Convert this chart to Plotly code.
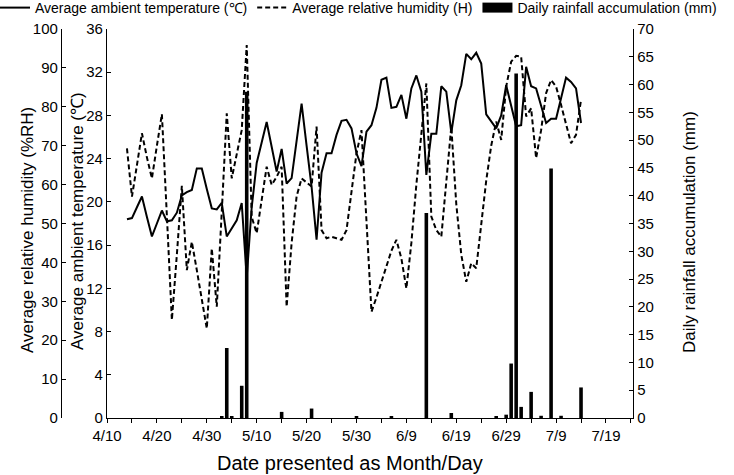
import plotly.graph_objects as go
import pandas as pd

# ---------------- data ----------------
series_start = "2020-04-14"   # first daily observation (4/14)

temperature_c = [
    18.4, 18.5, 19.5, 20.5, 18.6, 16.8, 18.0, 19.2, 18.2, 18.3,
    19.0, 20.6, 20.9, 21.1, 23.1, 23.1, 21.2, 19.4, 19.3, 19.9,
    16.8, 17.6, 18.3, 19.9, 13.0, 19.5, 23.6, 25.5, 27.4, 25.1,
    22.8, 24.9, 21.7, 22.2, 25.6, 29.1, 25.2, 21.4, 16.5, 22.7,
    24.5, 24.5, 26.2, 27.5, 27.6, 26.8, 24.5, 23.3, 26.5, 27.1,
    28.7, 31.3, 31.5, 28.7, 28.8, 29.9, 27.7, 30.5, 31.7, 30.2,
    22.5, 26.3, 26.3, 30.7, 30.2, 26.4, 29.4, 30.8, 33.7, 33.2,
    33.8, 32.8, 28.1, 27.4, 26.8, 28.0, 30.8, 28.9, 27.0, 27.1,
    32.5, 30.7, 30.5, 28.9, 27.3, 27.7, 27.7, 29.6, 31.5, 31.1,
    30.5, 27.3,
]

humidity_rh = [
    69.3, 56.9, 65.0, 73.2, 67.0, 61.6, 70.0, 78.1, 52.0, 25.2,
    42.0, 59.7, 38.0, 45.3, 38.0, 30.0, 23.0, 43.6, 28.6, 53.0,
    78.3, 61.6, 68.0, 74.0, 95.9, 51.7, 47.5, 56.0, 64.6, 59.9,
    62.0, 64.6, 28.6, 45.0, 57.0, 61.6, 60.5, 59.5, 74.9, 48.3,
    46.2, 46.6, 46.2, 45.8, 48.3, 58.0, 68.0, 74.0, 50.0, 27.3,
    31.0, 35.0, 39.0, 43.0, 45.8, 41.0, 33.3, 45.0, 60.0, 74.0,
    86.0, 51.8, 48.3, 46.6, 60.0, 74.9, 55.0, 42.0, 35.0, 39.8,
    38.5, 50.0, 61.0, 70.0, 76.2, 71.5, 85.2, 91.6, 93.1, 92.9,
    77.5, 79.6, 66.8, 74.0, 83.5, 86.9, 85.2, 80.5, 75.8, 70.6,
    72.8, 81.8,
]

rain_dates = [
    "2020-05-03", "2020-05-04", "2020-05-05", "2020-05-07", "2020-05-08",
    "2020-05-15", "2020-05-21", "2020-05-30", "2020-06-06", "2020-06-13",
    "2020-06-18", "2020-06-27", "2020-06-29", "2020-06-30", "2020-07-01",
    "2020-07-02", "2020-07-04", "2020-07-06", "2020-07-08", "2020-07-10",
    "2020-07-14",
]
rain_mm = [
    0.2, 12.6, 0.2, 5.8, 58.7,
    1.1, 1.7, 0.3, 0.3, 36.9,
    0.9, 0.2, 0.6, 9.8, 62.0,
    2.0, 4.7, 0.4, 44.9, 0.4,
    5.5,
]

tick_dates = pd.date_range("2020-04-10", "2020-07-24", freq="5D")
tick_labels = ["4/10", "", "4/20", "", "4/30", "", "5/10", "", "5/20", "",
               "5/30", "", "6/9", "", "6/19", "", "6/29", "", "7/9", "",
               "7/19", ""]

obs_dates = pd.date_range(series_start, periods=len(temperature_c), freq="D")

# ---------------- figure ----------------
W, H = 734, 475
X0, X1 = 107, 633          # plot area, pixels
Y_TOP, Y_BOT = 29, 418
DAY_MS = 86400000
RAIN_NAME = "Daily rainfall accumulation (mm)"

fig = go.Figure()
fig.add_trace(go.Scatter(
    x=obs_dates, y=temperature_c, mode="lines", yaxis="y",
    name="Average ambient temperature (℃)",
    line=dict(color="black", width=2)))
fig.add_trace(go.Scatter(
    x=obs_dates, y=humidity_rh, mode="lines", yaxis="y2",
    name="Average relative humidity (H)",
    line=dict(color="black", width=2, dash="5px,3px")))
fig.add_trace(go.Bar(
    x=pd.to_datetime(rain_dates), y=rain_mm, yaxis="y3",
    name=RAIN_NAME, showlegend=False, legendgroup="rain",
    width=0.72 * DAY_MS, marker=dict(color="black", line=dict(width=0))))
# legend key for the bars: a wide black block like the reference key
fig.add_trace(go.Scatter(
    x=[None], y=[None], mode="lines", yaxis="y3", name=RAIN_NAME,
    legendgroup="rain", line=dict(color="black", width=14),
    hoverinfo="skip"))

axis_common = dict(showline=True, linecolor="black", linewidth=1.3,
                   showgrid=False, zeroline=False, ticks="inside", ticklen=4,
                   tickwidth=1.2, tickcolor="black",
                   tickfont=dict(size=15, color="black"))

fig.update_layout(
    width=W, height=H,
    margin=dict(l=0, r=0, t=0, b=0, autoexpand=False),
    paper_bgcolor="white", plot_bgcolor="white",
    font=dict(family="Arial, 'Liberation Sans', sans-serif", color="black", size=15),
    showlegend=True,
    legend=dict(orientation="h", x=-5 / W, y=1 + 8 / H, xanchor="left", yanchor="top",
                font=dict(size=14), bgcolor="rgba(0,0,0,0)",
                traceorder="normal", itemwidth=30),
    xaxis=dict(type="date", domain=[X0 / W, X1 / W],
               range=["2020-04-10", "2020-07-24 10:00"],
               tickmode="array", tickvals=tick_dates, ticktext=tick_labels,
               showline=True, linecolor="black", linewidth=1.3,
               showgrid=False, zeroline=False, ticks="outside", ticklen=4,
               tickwidth=1.2, tickcolor="black",
               tickfont=dict(size=15, color="black"), anchor="y"),
    yaxis=dict(domain=[(H - Y_BOT) / H, (H - Y_TOP) / H], range=[0, 36],
               tick0=0, dtick=4, anchor="x", **axis_common),
    yaxis2=dict(overlaying="y", anchor="free", position=61 / W, side="left",
                range=[0, 100], tick0=0, dtick=10, **axis_common),
    yaxis3=dict(overlaying="y", anchor="x", side="right",
                range=[0, 70], tick0=0, dtick=5, **axis_common),
)

def px_x(px):
    return px / W

def px_y(py):
    return (H - py) / H

title_font = dict(size=17, color="black")
fig.add_annotation(text="Average relative humidity (%RH)", xref="paper", yref="paper",
                   x=px_x(28), y=px_y(230), textangle=-90, showarrow=False,
                   font=title_font, xanchor="center", yanchor="middle")
fig.add_annotation(text="Average ambient temperature (℃)", xref="paper", yref="paper",
                   x=px_x(77), y=px_y(221), textangle=-90, showarrow=False,
                   font=title_font, xanchor="center", yanchor="middle")
fig.add_annotation(text=RAIN_NAME, xref="paper", yref="paper",
                   x=px_x(689), y=px_y(232), textangle=-90, showarrow=False,
                   font=title_font, xanchor="center", yanchor="middle")
fig.add_annotation(text="Date presented as Month/Day", xref="paper", yref="paper",
                   x=px_x(350), y=px_y(463), showarrow=False,
                   font=dict(size=20, color="black"), xanchor="center", yanchor="middle")

fig.write_html("out.html")
